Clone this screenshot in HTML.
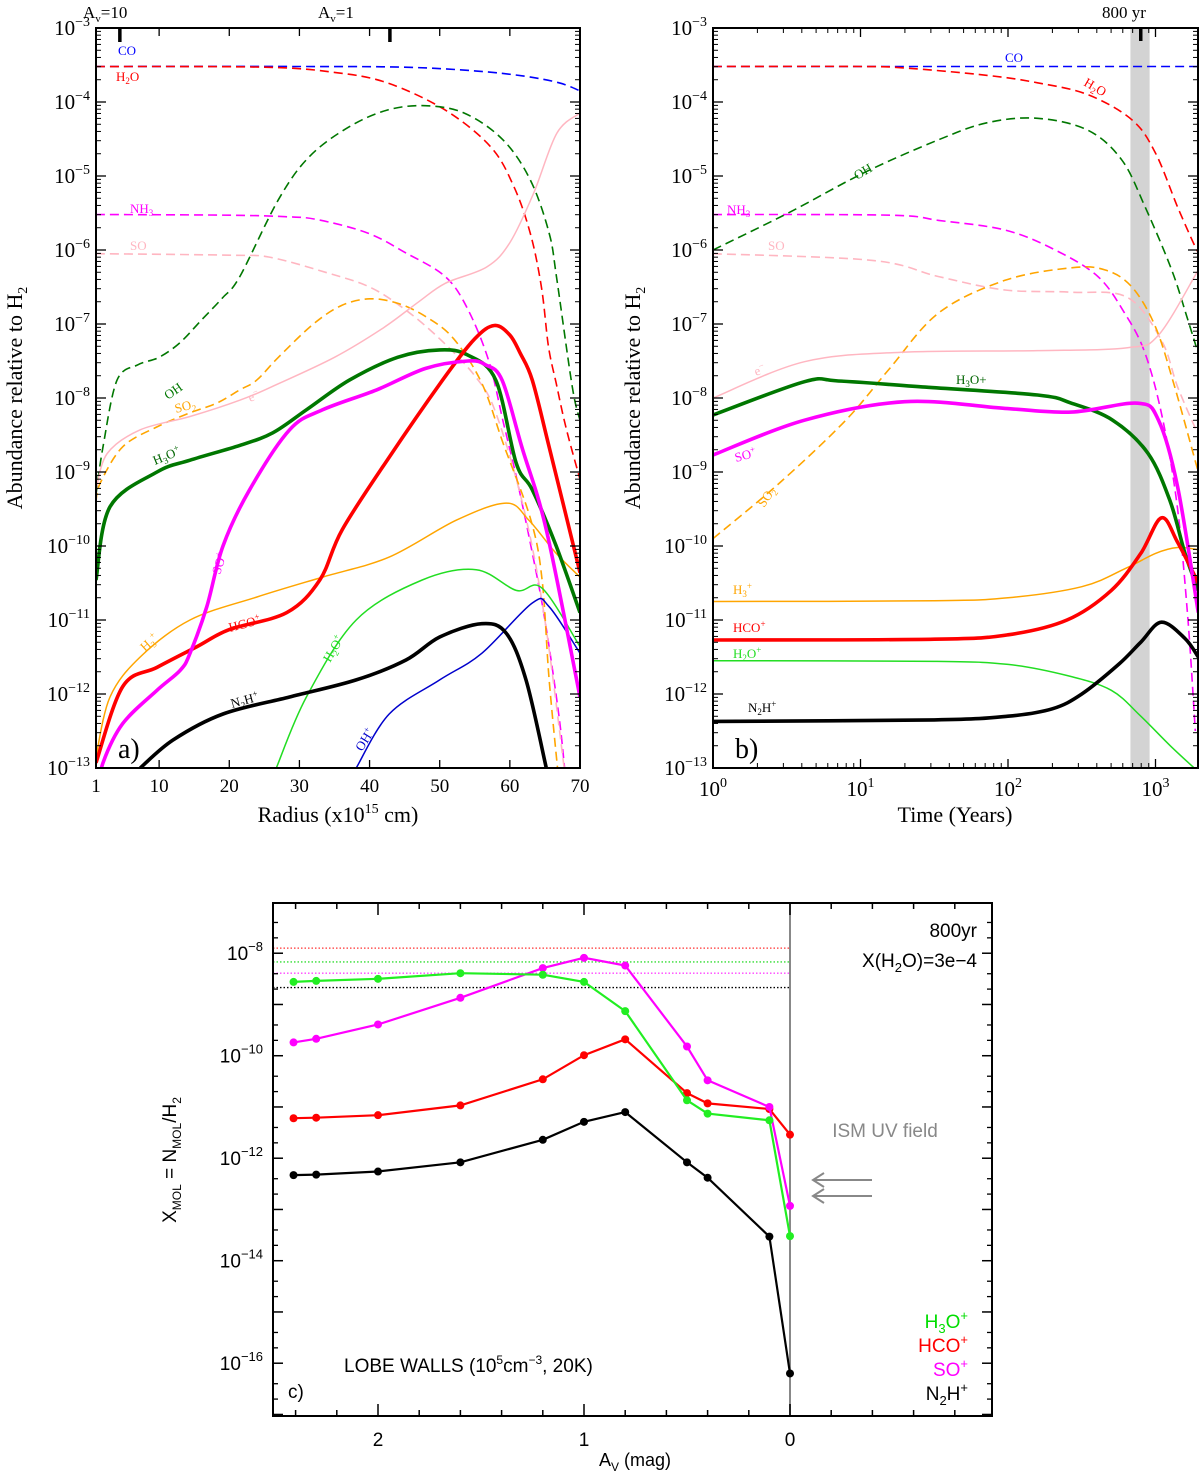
<!DOCTYPE html>
<html>
<head>
<meta charset="utf-8">
<style>
html,body{margin:0;padding:0;background:#fff;}
svg{display:block;}
.serif{font-family:"Liberation Serif","DejaVu Serif",serif;}
.sans{font-family:"Liberation Sans","DejaVu Sans",sans-serif;}
</style>
</head>
<body>
<svg id="fig" width="1200" height="1473" viewBox="0 0 1200 1473" xmlns="http://www.w3.org/2000/svg">
  <defs>
    <clipPath id="clipA"><rect x="96" y="28" width="484" height="740"/></clipPath>
    <clipPath id="clipB"><rect x="713" y="28" width="485" height="740"/></clipPath>
    <clipPath id="clipC"><rect x="273" y="903" width="719" height="513"/></clipPath>
  </defs>
  <rect x="0" y="0" width="1200" height="1473" fill="#fff"/>
  <g id="layerA" clip-path="url(#clipA)"></g>
  <g id="layerB" clip-path="url(#clipB)"></g>
  <g id="layerC" clip-path="url(#clipC)"></g>
  <g id="axes"></g>

  <!-- Panel a labels -->
  <g class="serif" font-size="13">
    <text x="118" y="55" fill="#0000ff">CO</text>
    <text x="116" y="81" fill="#ff0000">H<tspan font-size="9" dy="3">2</tspan><tspan dy="-3">O</tspan></text>
    <text x="130" y="213" fill="#ff00ff">NH<tspan font-size="9" dy="3">3</tspan></text>
    <text x="130" y="250" fill="#ffb6c1">SO</text>
    <text transform="translate(168,400) rotate(-35)" fill="#007700">OH</text>
    <text transform="translate(176,413) rotate(-15)" fill="#ffa500">SO<tspan font-size="9" dy="3">2</tspan></text>
    <text transform="translate(250,402) rotate(-20)" fill="#ffb6c1">e<tspan font-size="9" dy="-5">−</tspan></text>
    <text transform="translate(155,465) rotate(-22)" fill="#006400">H<tspan font-size="9" dy="3">3</tspan><tspan dy="-3">O</tspan><tspan font-size="9" dy="-5">+</tspan></text>
    <text transform="translate(220,575) rotate(-72)" fill="#ff00ff">SO<tspan font-size="9" dy="-5">+</tspan></text>
    <text transform="translate(145,652) rotate(-42)" fill="#ffa500">H<tspan font-size="9" dy="3">3</tspan><tspan font-size="9" dy="-8">+</tspan></text>
    <text transform="translate(230,632) rotate(-15)" fill="#ff0000">HCO<tspan font-size="9" dy="-5">+</tspan></text>
    <text transform="translate(330,663) rotate(-60)" fill="#22dd22">H<tspan font-size="9" dy="3">2</tspan><tspan dy="-3">O</tspan><tspan font-size="9" dy="-5">+</tspan></text>
    <text transform="translate(232,708) rotate(-15)" fill="#000">N<tspan font-size="9" dy="3">2</tspan><tspan dy="-3">H</tspan><tspan font-size="9" dy="-5">+</tspan></text>
    <text transform="translate(362,752) rotate(-58)" fill="#0000cc">OH<tspan font-size="9" dy="-5">+</tspan></text>
  </g>
  <g class="serif" font-size="17">
    <text x="83" y="18">A<tspan font-size="11" dy="4">v</tspan><tspan dy="-4">=10</tspan></text>
    <text x="318" y="18">A<tspan font-size="11" dy="4">v</tspan><tspan dy="-4">=1</tspan></text>
    <text x="1102" y="18">800 yr</text>
  </g>
  <text x="118" y="758" class="serif" font-size="28">a)</text>
  <text x="735" y="758" class="serif" font-size="28">b)</text>
  <text x="338" y="822" class="serif" font-size="22" text-anchor="middle">Radius (x10<tspan font-size="14" dy="-9">15</tspan><tspan dy="9"> cm)</tspan></text>
  <text x="955" y="822" class="serif" font-size="22" text-anchor="middle">Time (Years)</text>
  <text transform="translate(22,398) rotate(-90)" class="serif" font-size="22" text-anchor="middle">Abundance relative to H<tspan font-size="14" dy="5">2</tspan></text>
  <text transform="translate(640,398) rotate(-90)" class="serif" font-size="22" text-anchor="middle">Abundance relative to H<tspan font-size="14" dy="5">2</tspan></text>

  <!-- Panel b labels -->
  <g class="serif" font-size="13">
    <text x="1005" y="62" fill="#0000ff">CO</text>
    <text transform="translate(1083,85) rotate(30)" fill="#ff0000">H<tspan font-size="9" dy="3">2</tspan><tspan dy="-3">O</tspan></text>
    <text transform="translate(857,180) rotate(-30)" fill="#007700">OH</text>
    <text x="727" y="214" fill="#ff00ff">NH<tspan font-size="9" dy="3">3</tspan></text>
    <text x="768" y="250" fill="#ffb6c1">SO</text>
    <text transform="translate(756,376) rotate(-20)" fill="#ffb6c1">e<tspan font-size="9" dy="-5">−</tspan></text>
    <text x="956" y="384" fill="#006400">H<tspan font-size="9" dy="3">3</tspan><tspan dy="-3">O+</tspan></text>
    <text transform="translate(736,462) rotate(-15)" fill="#ff00ff">SO<tspan font-size="9" dy="-5">+</tspan></text>
    <text transform="translate(764,508) rotate(-55)" fill="#ffa500">SO<tspan font-size="9" dy="3">2</tspan></text>
    <text x="733" y="594" fill="#ffa500">H<tspan font-size="9" dy="3">3</tspan><tspan font-size="9" dy="-8">+</tspan></text>
    <text x="733" y="632" fill="#ff0000">HCO<tspan font-size="9" dy="-5">+</tspan></text>
    <text x="733" y="658" fill="#22dd22">H<tspan font-size="9" dy="3">2</tspan><tspan dy="-3">O</tspan><tspan font-size="9" dy="-5">+</tspan></text>
    <text x="748" y="712" fill="#000">N<tspan font-size="9" dy="3">2</tspan><tspan dy="-3">H</tspan><tspan font-size="9" dy="-5">+</tspan></text>
  </g>

  <!-- Panel c labels -->
  <g class="sans">
    <text x="977" y="937" font-size="19" text-anchor="end">800yr</text>
    <text x="977" y="967" font-size="19" text-anchor="end">X(H<tspan font-size="13" dy="5">2</tspan><tspan dy="-5">O)=3e−4</tspan></text>
    <text x="885" y="1137" font-size="19" fill="#888" text-anchor="middle">ISM UV field</text>
    <text x="344" y="1372" font-size="19">LOBE WALLS (10<tspan font-size="12" dy="-8">5</tspan><tspan dy="8">cm</tspan><tspan font-size="12" dy="-8">−3</tspan><tspan dy="8">, 20K)</tspan></text>
    <text x="288" y="1398" font-size="19">c)</text>
    <text x="968" y="1328" font-size="19" fill="#00dd00" text-anchor="end">H<tspan font-size="13" dy="5">3</tspan><tspan dy="-5">O</tspan><tspan font-size="13" dy="-8">+</tspan></text>
    <text x="968" y="1352" font-size="19" fill="#ff0000" text-anchor="end">HCO<tspan font-size="13" dy="-8">+</tspan></text>
    <text x="968" y="1376" font-size="19" fill="#ff00ff" text-anchor="end">SO<tspan font-size="13" dy="-8">+</tspan></text>
    <text x="968" y="1400" font-size="19" fill="#000" text-anchor="end">N<tspan font-size="13" dy="5">2</tspan><tspan dy="-5">H</tspan><tspan font-size="13" dy="-8">+</tspan></text>
    <text x="635" y="1466" font-size="18" text-anchor="middle">A<tspan font-size="12" dy="5">V</tspan><tspan dy="-5"> (mag)</tspan></text>
    <text transform="translate(176,1160) rotate(-90)" font-size="19" text-anchor="middle">X<tspan font-size="12" dy="5">MOL</tspan><tspan dy="-5"> = N</tspan><tspan font-size="12" dy="5">MOL</tspan><tspan dy="-5">/H</tspan><tspan font-size="12" dy="5">2</tspan></text>
  </g>
  <g stroke="#888" stroke-width="2" fill="none">
    <path d="M872,1180 L813,1180 M824,1173 L813,1180 L824,1187"/>
    <path d="M872,1196 L813,1196 M824,1189 L813,1196 L824,1203"/>
  </g>
</svg>

<script>
// ===== Panel a data (x: radius in 1e15 cm, y: log10 abundance) =====
const aCO   = [[1,-3.52],[30,-3.52],[45,-3.53],[55,-3.58],[62,-3.65],[67,-3.74],[70,-3.85]];
const aH2O  = [[1,-3.52],[25,-3.53],[35,-3.6],[42.5,-3.74],[50.8,-4.11],[57.3,-4.61],[60.6,-5.15],[62.9,-5.77],[64.5,-6.5],[65.5,-7.3],[66.6,-7.8],[68,-8.4],[70,-9.1]];
const aOH   = [[1,-9.3],[2,-8.66],[4,-7.76],[7,-7.55],[10,-7.45],[13,-7.25],[16,-6.95],[19,-6.65],[21.5,-6.36],[27,-5.32],[31.4,-4.74],[37,-4.34],[42.5,-4.11],[47.9,-4.05],[53.5,-4.15],[59,-4.51],[62.9,-5.05],[65.6,-5.77],[66.7,-6.4],[68.9,-7.85],[70,-8.3]];
const aNH3  = [[1,-5.52],[20,-5.53],[28,-5.55],[32.6,-5.59],[39.7,-5.77],[45.2,-6.04],[50.8,-6.36],[54,-6.8],[57,-7.5],[59,-8.3],[61,-9.1],[63,-10],[65,-11],[67,-12.3],[68,-13.2]];
const aSO   = [[1,-6.05],[20,-6.07],[25.9,-6.1],[34,-6.31],[40,-6.5],[45,-6.8],[50,-7.2],[55,-7.7],[58,-8.2],[62,-9.5],[65,-11],[68,-13.2]];
const aSO2  = [[1,-9.4],[1.6,-9.15],[4.8,-8.66],[9.7,-8.39],[14.4,-8.2],[18.2,-8.07],[21.5,-7.89],[23.9,-7.76],[27,-7.45],[32,-7.0],[36,-6.75],[40,-6.66],[44,-6.72],[48,-6.9],[52,-7.2],[56,-7.8],[59,-8.6],[63,-9.65],[64.6,-10.46],[65.6,-11.8],[67,-13.2]];
const aElec = [[1,-9.24],[2.6,-8.75],[7.3,-8.43],[14.4,-8.25],[21.5,-8.03],[26,-7.85],[35,-7.45],[42,-7.05],[47,-6.7],[50.8,-6.45],[56.7,-6.23],[60,-5.9],[63.4,-5.23],[66.7,-4.42],[70,-4.15]];
const aH3Op = [[1,-10.46],[3,-9.47],[9.7,-9.0],[14.4,-8.84],[21.5,-8.64],[26.2,-8.47],[31,-8.16],[37.1,-7.76],[44,-7.45],[50,-7.35],[54,-7.42],[58,-7.76],[60.9,-8.88],[63.2,-9.24],[66.6,-10.0],[70,-10.9]];
const aHCOp = [[1,-12.93],[4.8,-11.9],[9.7,-11.64],[15.4,-11.36],[20,-11.13],[28.2,-10.9],[32.9,-10.46],[36.1,-9.78],[42.8,-8.8],[50.4,-7.76],[55,-7.2],[57.8,-7.02],[60,-7.15],[61.5,-7.4],[63.2,-7.76],[65.6,-8.66],[70,-10.36]];
const aSOp  = [[1,-13.4],[2,-12.93],[4.8,-12.4],[9.7,-11.95],[13,-11.68],[14.4,-11.45],[16.8,-10.82],[19.1,-10.0],[22.9,-9.24],[28.6,-8.43],[33.3,-8.16],[41,-7.89],[48,-7.6],[54,-7.5],[56.5,-7.55],[58.9,-7.76],[61.7,-8.66],[65.2,-9.78],[70,-12.04]];
const aH3p  = [[1,-12.85],[3,-12.04],[7.3,-11.5],[14.4,-11.0],[23.9,-10.69],[33.3,-10.42],[42.8,-10.15],[52.4,-9.65],[59.5,-9.42],[62.7,-9.65],[66.6,-10.1],[70,-10.42]];
const aH2Op = [[26.7,-13.0],[31,-12.04],[38.1,-11.0],[47.5,-10.46],[55.2,-10.32],[60.9,-10.6],[64.6,-10.57],[70,-11.36]];
const aOHp  = [[38.1,-13.0],[42.8,-12.27],[50,-11.81],[56,-11.45],[63.2,-10.77],[65.6,-10.82],[70,-11.45]];
const aN2Hp = [[7.3,-13.0],[12,-12.62],[19.1,-12.27],[28.6,-12.04],[38.1,-11.81],[45.2,-11.54],[50,-11.23],[56,-11.05],[59.5,-11.18],[62.3,-11.81],[65.2,-13.0]];

// ===== Panel b data (x: log10 time in years, y: log10 abundance) =====
const bCO   = [[0,-3.52],[3.3,-3.52]];
const bH2O  = [[0,-3.52],[1.0,-3.52],[1.3,-3.54],[1.86,-3.64],[2.2,-3.74],[2.54,-3.9],[2.84,-4.24],[3.0,-4.69],[3.15,-5.42],[3.27,-5.96],[3.3,-6.05]];
const bOH   = [[0,-6.0],[0.51,-5.5],[1.03,-4.95],[1.53,-4.51],[1.86,-4.28],[2.2,-4.22],[2.54,-4.38],[2.77,-4.78],[2.93,-5.42],[3.11,-6.27],[3.22,-6.95],[3.29,-7.4]];
const bNH3  = [[0,-5.52],[1.2,-5.53],[1.53,-5.6],[1.98,-5.73],[2.32,-6.0],[2.61,-6.36],[2.79,-6.85],[2.93,-7.4],[3.05,-8.3],[3.15,-9.5],[3.22,-11],[3.27,-12.5]];
const bSO   = [[0,-6.05],[1.08,-6.14],[1.53,-6.36],[1.98,-6.54],[2.43,-6.57],[2.81,-6.64],[3.04,-7.22],[3.15,-7.85],[3.29,-8.5]];
const bSO2  = [[0,-9.9],[0.45,-9.15],[0.9,-8.3],[1.19,-7.62],[1.53,-6.85],[1.98,-6.41],[2.43,-6.24],[2.66,-6.27],[2.84,-6.5],[3.0,-7.04],[3.13,-7.85],[3.29,-9.0]];
const bElec = [[0,-8.0],[0.62,-7.51],[1.3,-7.38],[2.2,-7.36],[2.81,-7.32],[3.02,-7.15],[3.29,-6.27]];
const bH3Op = [[0,-8.23],[0.62,-7.78],[0.85,-7.77],[1.42,-7.85],[2.2,-7.96],[2.43,-8.07],[2.71,-8.3],[2.95,-8.75],[3.1,-9.4],[3.2,-10.1],[3.29,-10.6]];
const bSOp  = [[0,-8.77],[0.62,-8.3],[1.3,-8.05],[1.98,-8.14],[2.43,-8.19],[2.88,-8.07],[3.02,-8.3],[3.15,-9.2],[3.29,-10.9]];
const bH3p  = [[0,-10.75],[1.5,-10.74],[2.0,-10.7],[2.5,-10.55],[2.8,-10.3],[3.0,-10.1],[3.15,-10.02],[3.29,-10.05]];
const bHCOp = [[0,-11.27],[1.5,-11.26],[2.0,-11.2],[2.4,-11.0],[2.7,-10.6],[2.9,-10.1],[3.04,-9.62],[3.15,-9.95],[3.29,-10.5]];
const bH2Op = [[0,-11.55],[1.5,-11.56],[2.0,-11.6],[2.4,-11.75],[2.7,-11.95],[2.9,-12.3],[3.1,-12.7],[3.29,-13.05]];
const bN2Hp = [[0,-12.37],[1.5,-12.35],[2.0,-12.3],[2.3,-12.2],[2.5,-12.0],[2.75,-11.6],[2.9,-11.3],[3.04,-11.03],[3.2,-11.25],[3.29,-11.5]];
const bBand = [2.83, 2.96];

// ===== Panel c data (x: Av mag, y: log10 abundance) =====
const cAv    = [2.41, 2.30, 2.0, 1.6, 1.2, 1.0, 0.8, 0.5, 0.4, 0.1, 0.0];
const cH3Op  = [-8.56,-8.54,-8.5,-8.39,-8.42,-8.56,-9.13,-10.87,-11.13,-11.26,-13.52];
const cHCOp  = [-11.22,-11.21,-11.16,-10.97,-10.46,-9.99,-9.68,-10.73,-10.93,-11.04,-11.54];
const cSOp   = [-9.74,-9.67,-9.39,-8.87,-8.29,-8.09,-8.24,-9.82,-10.48,-11.0,-12.93];
const cN2Hp  = [-12.33,-12.32,-12.26,-12.08,-11.64,-11.29,-11.1,-12.08,-12.38,-13.53,-16.2];
const cRefNames = ['hco-plus','h3o-plus','so-plus','n2h-plus'];
const cRefLevels = [-7.9, -8.17, -8.39, -8.67];
const cYTicks = [-8, -10, -12, -14, -16];
const cXTicks = [2, 1, 0];

const NS = 'http://www.w3.org/2000/svg';
function mk(tag, attrs, parent){
  const el = document.createElementNS(NS, tag);
  for (const k in attrs) el.setAttribute(k, attrs[k]);
  parent.appendChild(el);
  return el;
}

// scales
const A = {x0:96,x1:580,y0:28,y1:768,xmin:1,xmax:70,ymin:-13,ymax:-3};
const B = {x0:713,x1:1198,y0:28,y1:768,xmin:0,xmax:(1198-713)/147.5,ymin:-13,ymax:-3};
const C = {x0:273,x1:992,y0:903,y1:1416,xmin:(790-273)/206,xmax:(790-992)/206,ymin:-17.03,ymax:-7.02};
function sx(P,v){ return P.x0 + (v-P.xmin)/(P.xmax-P.xmin)*(P.x1-P.x0); }
function sy(P,v){ return P.y0 + (P.ymax-v)/(P.ymax-P.ymin)*(P.y1-P.y0); }

function smoothPath(P, pts){
  const p = pts.map(d=>[sx(P,d[0]), sy(P,d[1])]);
  let d = 'M'+p[0][0].toFixed(1)+','+p[0][1].toFixed(1);
  for (let i=0;i<p.length-1;i++){
    const p0 = p[i-1]||p[i], p1=p[i], p2=p[i+1], p3=p[i+2]||p[i+1];
    const c1x = p1[0]+(p2[0]-p0[0])/6, c1y = p1[1]+(p2[1]-p0[1])/6;
    const c2x = p2[0]-(p3[0]-p1[0])/6, c2y = p2[1]-(p3[1]-p1[1])/6;
    d += ' C'+c1x.toFixed(1)+','+c1y.toFixed(1)+' '+c2x.toFixed(1)+','+c2y.toFixed(1)+' '+p2[0].toFixed(1)+','+p2[1].toFixed(1);
  }
  return d;
}

const layerA = document.getElementById('layerA');
const layerB = document.getElementById('layerB');
const layerC = document.getElementById('layerC');
const axes = document.getElementById('axes');

// band in panel b
const band = mk('rect',{x:sx(B,bBand[0]),y:B.y0,width:sx(B,bBand[1])-sx(B,bBand[0]),height:B.y1-B.y0,fill:'#d3d3d3'},layerB);



const DASH = '9,5';
const seriesA = [
  ['co-a',aCO,'#0000ff',1.6,DASH],['h2o-a',aH2O,'#ff0000',1.6,DASH],['oh-a',aOH,'#007700',1.6,DASH],
  ['nh3-a',aNH3,'#ff00ff',1.6,DASH],['so-a',aSO,'#ffb6c1',1.6,DASH],['so2-a',aSO2,'#ffa500',1.6,DASH],
  ['electron-a',aElec,'#ffb6c1',1.5,''],['h3-plus-a',aH3p,'#ffa500',1.5,''],['h2o-plus-a',aH2Op,'#22dd22',1.5,''],
  ['oh-plus-a',aOHp,'#0000cc',1.5,''],['h3o-plus-a',aH3Op,'#007700',3.6,''],['hco-plus-a',aHCOp,'#ff0000',3.6,''],
  ['so-plus-a',aSOp,'#ff00ff',3.6,''],['n2h-plus-a',aN2Hp,'#000000',3.6,'']
];
const seriesB = [
  ['co-b',bCO,'#0000ff',1.6,DASH],['h2o-b',bH2O,'#ff0000',1.6,DASH],['oh-b',bOH,'#007700',1.6,DASH],
  ['nh3-b',bNH3,'#ff00ff',1.6,DASH],['so-b',bSO,'#ffb6c1',1.6,DASH],['so2-b',bSO2,'#ffa500',1.6,DASH],
  ['electron-b',bElec,'#ffb6c1',1.5,''],['h3-plus-b',bH3p,'#ffa500',1.5,''],['h2o-plus-b',bH2Op,'#22dd22',1.5,''],
  ['h3o-plus-b',bH3Op,'#007700',3.6,''],['hco-plus-b',bHCOp,'#ff0000',3.6,''],
  ['so-plus-b',bSOp,'#ff00ff',3.6,''],['n2h-plus-b',bN2Hp,'#000000',3.6,'']
];
function drawSeries(P, layer, list){
  list.forEach(s=>{
    const a = {d:smoothPath(P,s[1]),fill:'none',stroke:s[2],'stroke-width':s[3],'stroke-linejoin':'round'};
    if (s[4]) a['stroke-dasharray']=s[4];
    const el = mk('path',a,layer);
    
    
  });
}
drawSeries(A, layerA, seriesA);
drawSeries(B, layerB, seriesB);

// frames and ticks for a & b
function frame(P, name){
  const r = mk('rect',{x:P.x0,y:P.y0,width:P.x1-P.x0,height:P.y1-P.y0,fill:'none',stroke:'#000','stroke-width':2},axes);
  
  
}
function tick(x1,y1,x2,y2,w){
  const t = mk('line',{x1:x1,y1:y1,x2:x2,y2:y2,stroke:'#000','stroke-width':w||1},axes);
  
  
}
function powLabel(x,y,exp,anchor,size,cls,name){
  const t = mk('text',{x:x,y:y,'text-anchor':anchor,'font-size':size,'class':cls},axes);
  
  
  t.appendChild(document.createTextNode('10'));
  const s = mk('tspan',{'font-size':Math.round(size*0.68),dy:-Math.round(size*0.45)},t);
  s.textContent = exp;
}
function yLogAxis(P, labels, name){
  for (let e=P.ymin; e<=P.ymax; e++){
    const y = sy(P,e);
    tick(P.x0,y,P.x0+10,y,1.3); tick(P.x1,y,P.x1-10,y,1.3);
    if (labels) powLabel(P.x0-6,y+7,(e<0?'−':'')+Math.abs(e),'end',21,'serif',name+'-tick-label');
    if (e<P.ymax) for (let m=2;m<=9;m++){
      const ym = sy(P,e+Math.log10(m));
      tick(P.x0,ym,P.x0+5,ym,1); tick(P.x1,ym,P.x1-5,ym,1);
    }
  }
}
frame(A,'frame-a'); frame(B,'frame-b');
yLogAxis(A,true,'y-axis-a'); yLogAxis(B,true,'y-axis-b');
const aXTicks = [1,10,20,30,40,50,60,70];
aXTicks.forEach(v=>{
  const x = sx(A,v);
  tick(x,A.y1,x,A.y1-8,1.3); tick(x,A.y0,x,A.y0+8,1.3);
  const t = mk('text',{x:x,y:A.y1+24,'text-anchor':'middle','font-size':19,'class':'serif'},axes);
  
  
  t.textContent = v;
});
// Av markers at top of panel a
const avMarks = [4.4, 42.9];
avMarks.forEach(v=>{ tick(sx(A,v),A.y0,sx(A,v),A.y0+14,3.5); });
for (let e=0;e<=3;e++){
  const x = sx(B,e);
  tick(x,B.y1,x,B.y1-9,1.3); tick(x,B.y0,x,B.y0+9,1.3);
  powLabel(x,B.y1+28,e,'middle',21,'serif','x-tick-label-b');
  for (let m=2;m<=9;m++){
    const lv = e+Math.log10(m);
    if (lv>B.xmax) break;
    const xm = sx(B,lv);
    tick(xm,B.y1,xm,B.y1-5,1); tick(xm,B.y0,xm,B.y0+5,1);
  }
}
tick(sx(B,2.9),B.y0,sx(B,2.9),B.y0+13,3.5);

// ===== Panel c =====
const vline = mk('line',{x1:sx(C,0),y1:C.y0,x2:sx(C,0),y2:C.y1,stroke:'#888','stroke-width':2},layerC);


const refColors = ['#ff3333','#33dd33','#ff44ff','#000000'];
cRefLevels.forEach((lv,i)=>{
  const l = mk('line',{x1:C.x0,y1:sy(C,lv),x2:sx(C,0),y2:sy(C,lv),stroke:refColors[i],'stroke-width':1.3,'stroke-dasharray':'1.5,2'},layerC);
  
  
});
const seriesC = [['n2h-plus',cN2Hp,'#000000'],['hco-plus',cHCOp,'#ff0000'],['so-plus',cSOp,'#ff00ff'],['h3o-plus',cH3Op,'#22ee22']];
seriesC.forEach(s=>{
  const pts = cAv.map((av,i)=>sx(C,av).toFixed(1)+','+sy(C,s[1][i]).toFixed(1)).join(' ');
  const pl = mk('polyline',{points:pts,fill:'none',stroke:s[2],'stroke-width':2.2},layerC);
  
  
  cAv.forEach((av,i)=>{
    const c = mk('circle',{cx:sx(C,av),cy:sy(C,s[1][i]),r:4,fill:s[2]},layerC);
    
    
  });
});
frame(C,'frame-c');
for (let e=-17; e<=-8; e++){
  const y = sy(C,e);
  tick(C.x0,y,C.x0+10,y,1.5); tick(C.x1,y,C.x1-10,y,1.5);
  [0.3,0.6].forEach(f=>{
    const ym = sy(C,e+f);
    if (ym>C.y0 && ym<C.y1){ tick(C.x0,ym,C.x0+5,ym,1.3); tick(C.x1,ym,C.x1-5,ym,1.3); }
  });
}
cYTicks.forEach(e=>{
  powLabel(C.x0-10,sy(C,e)+7,'−'+Math.abs(e),'end',19,'sans','y-tick-label-c');
});
for (let k=-5;k<=12;k++){
  const av = k*0.2;
  const x = sx(C,av);
  if (x<=C.x0+1 || x>=C.x1-1) continue;
  const major = Math.abs(av-Math.round(av))<1e-6;
  tick(x,C.y1,x,C.y1-(major?12:6),1.5); tick(x,C.y0,x,C.y0+(major?12:6),1.5);
}
cXTicks.forEach(v=>{
  const t = mk('text',{x:sx(C,v),y:C.y1+30,'text-anchor':'middle','font-size':19,'class':'sans'},axes);
  
  
  t.textContent = v;
});
</script>
</body>
</html>
